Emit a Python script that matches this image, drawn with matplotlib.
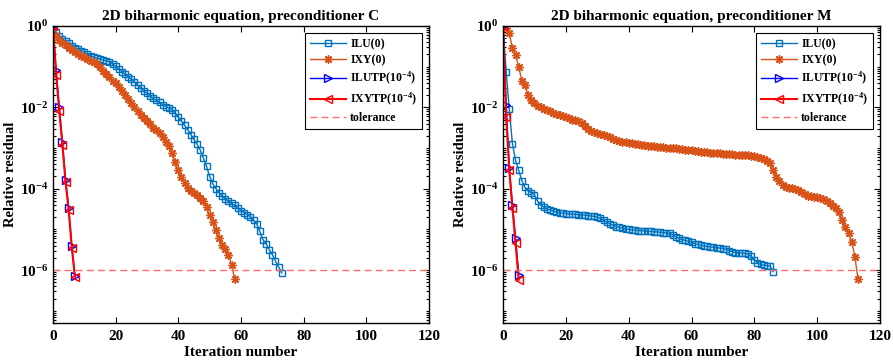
import numpy as np
import matplotlib
matplotlib.use("Agg")
import matplotlib.pyplot as plt
from matplotlib.ticker import FixedLocator, LogLocator, NullFormatter, FuncFormatter

plt.rcParams['font.family'] = ['Liberation Serif', 'DejaVu Serif']
plt.rcParams['font.weight'] = 'bold'
plt.rcParams['mathtext.fontset'] = 'custom'
plt.rcParams['mathtext.rm'] = 'Liberation Serif:bold'
plt.rcParams['mathtext.it'] = 'Liberation Serif:italic:bold'
plt.rcParams['mathtext.bf'] = 'Liberation Serif:bold'
plt.rcParams['mathtext.default'] = 'rm'

# ---------------- data (log10 of relative residual per iteration) ----------------
titles = ["2D biharmonic equation, preconditioner C",
          "2D biharmonic equation, preconditioner M"]
labels = ["ILU(0)", "IXY(0)", "ILUTP(10$^{-4}$)", "IXYTP(10$^{-4}$)", "tolerance"]
tolerance = 1e-6
x_ticks = [0, 20, 40, 60, 80, 100, 120]
y_ticks = [1e-6, 1e-4, 1e-2, 1e0]

C_ilu0 = [0, -0.15, -0.25, -0.32, -0.38, -0.43, -0.48, -0.53, -0.57, -0.61,
          -0.65, -0.69, -0.73, -0.77, -0.79, -0.81, -0.83, -0.86, -0.88, -0.93,
          -0.99, -1.06, -1.12, -1.18, -1.25, -1.31, -1.38, -1.45, -1.52, -1.59,
          -1.65, -1.72, -1.78, -1.83, -1.88, -1.93, -1.98, -2.02, -2.06, -2.14,
          -2.24, -2.34, -2.44, -2.55, -2.67, -2.79, -2.91, -3.05, -3.25, -3.45,
          -3.70, -3.88, -4.00, -4.10, -4.18, -4.25, -4.31, -4.36, -4.41, -4.48,
          -4.54, -4.59, -4.64, -4.69, -4.78, -4.86, -5.05, -5.25, -5.35, -5.50,
          -5.62, -5.78, -5.92, -6.07]
C_ixy0 = [0, -0.25, -0.35, -0.42, -0.47, -0.53, -0.58, -0.63, -0.68, -0.73,
          -0.77, -0.81, -0.85, -0.89, -0.93, -1.02, -1.10, -1.18, -1.26, -1.34,
          -1.41, -1.50, -1.60, -1.70, -1.80, -1.90, -2.00, -2.10, -2.19, -2.26,
          -2.33, -2.42, -2.50, -2.56, -2.64, -2.74, -2.85, -2.96, -3.12, -3.35,
          -3.55, -3.72, -3.87, -3.98, -4.06, -4.11, -4.16, -4.22, -4.30, -4.45,
          -4.65, -4.82, -5.02, -5.22, -5.38, -5.48, -5.62, -5.87, -6.23]
C_ilutp = [0, -1.08, -1.99, -2.85, -3.78, -4.47, -5.41, -6.14]
C_ixytp = [0, -1.20, -2.10, -2.92, -3.83, -4.52, -5.45, -6.16]

M_ilu0 = [0, -1.12, -2.05, -2.90, -3.30, -3.55, -3.80, -3.97, -4.05, -4.10,
          -4.15, -4.30, -4.40, -4.45, -4.50, -4.52, -4.55, -4.57, -4.59, -4.60,
          -4.61, -4.62, -4.63, -4.63, -4.64, -4.64, -4.65, -4.66, -4.67, -4.68,
          -4.70, -4.73, -4.77, -4.82, -4.86, -4.90, -4.93, -4.95, -4.97, -4.99,
          -5.00, -5.01, -5.02, -5.03, -5.03, -5.04, -5.05, -5.05, -5.06, -5.06,
          -5.07, -5.08, -5.09, -5.10, -5.13, -5.18, -5.22, -5.25, -5.27, -5.29,
          -5.32, -5.35, -5.37, -5.39, -5.41, -5.42, -5.43, -5.44, -5.45, -5.46,
          -5.47, -5.49, -5.52, -5.55, -5.57, -5.58, -5.58, -5.59, -5.61, -5.66,
          -5.75, -5.82, -5.86, -5.88, -5.89, -5.91, -6.04]
M_ixy0 = [0, -0.06, -0.18, -0.55, -0.72, -1.00, -1.35, -1.45, -1.70, -1.82,
          -1.90, -1.96, -2.00, -2.04, -2.07, -2.10, -2.13, -2.16, -2.19, -2.22,
          -2.24, -2.27, -2.30, -2.32, -2.34, -2.38, -2.45, -2.52, -2.57, -2.60,
          -2.63, -2.65, -2.68, -2.71, -2.74, -2.77, -2.80, -2.82, -2.84, -2.86,
          -2.87, -2.88, -2.89, -2.90, -2.92, -2.93, -2.94, -2.95, -2.96, -2.97,
          -2.98, -2.98, -2.99, -2.99, -3.00, -3.01, -3.02, -3.03, -3.04, -3.05,
          -3.06, -3.07, -3.08, -3.09, -3.10, -3.10, -3.11, -3.12, -3.13, -3.13,
          -3.14, -3.14, -3.15, -3.15, -3.16, -3.16, -3.17, -3.17, -3.18, -3.19,
          -3.20, -3.22, -3.25, -3.28, -3.32, -3.38, -3.55, -3.70, -3.82, -3.92,
          -3.96, -3.98, -3.99, -4.00, -4.03, -4.08, -4.13, -4.17, -4.19, -4.20,
          -4.21, -4.22, -4.25, -4.30, -4.36, -4.42, -4.48, -4.58, -4.78, -4.95,
          -5.10, -5.30, -5.67, -6.22]
M_ilutp = [0, -1.94, -3.50, -4.40, -5.22, -6.12]
M_ixytp = [0, -2.23, -3.54, -4.48, -5.34, -6.24]

panels = [(C_ilu0, C_ixy0, C_ilutp, C_ixytp),
          (M_ilu0, M_ixy0, M_ilutp, M_ixytp)]

# ---------------- styles ----------------
styles = [
    dict(color='#0072BD', marker='s', mfc='none', ms=5, lw=1.0, mew=1.0),
    dict(color='#D95319', marker=(8, 2, 0), ms=6, lw=1.0, mew=1.0),
    dict(color='#0000FF', marker='>', mfc='none', ms=6, lw=1.0, mew=1.0),
    dict(color='#FF0000', marker='<', mfc='none', ms=6, lw=1.5, mew=1.0),
]
tol_color = '#FF6B6B'

W, H = 893, 364
fig = plt.figure(figsize=(W / 100, H / 100), dpi=100)
axes_px = [(53, 26, 376, 297), (503, 26, 377, 297)]

def sci(v, pos):
    e = int(round(np.log10(v)))
    return r'10$^{%d}$' % e

for (x0, y0, w, h), title, data in zip(axes_px, titles, panels):
    ax = fig.add_axes([x0 / W, 1 - (y0 + h) / H, w / W, h / H])
    for vals, st, lab in zip(data, styles, labels):
        it = np.arange(len(vals))
        ax.semilogy(it, 10.0 ** np.array(vals), label=lab, **st)
    ax.axhline(tolerance, color=tol_color, ls=(0, (5, 3)), lw=1.0, label=labels[4])
    ax.set_xlim(0, 120)
    ax.set_ylim(5e-8, 1.0)
    ax.set_xticks(x_ticks)
    ax.yaxis.set_major_locator(FixedLocator(y_ticks))
    ax.yaxis.set_major_formatter(FuncFormatter(sci))
    ax.yaxis.set_minor_locator(LogLocator(base=10, subs=np.arange(1, 10), numticks=30))
    ax.yaxis.set_minor_formatter(NullFormatter())
    ax.tick_params(which='both', direction='in', top=True, right=True, labelsize=11, width=0.8)
    ax.tick_params(which='major', length=4.5)
    ax.tick_params(which='minor', length=2)
    ax.tick_params(axis='x', pad=5)
    for lab in ax.get_xticklabels() + ax.get_yticklabels():
        lab.set_fontweight('bold')
    for sp in ax.spines.values():
        sp.set_linewidth(1.0)
    ax.set_title(title, fontsize=11, fontweight='bold', pad=4)
    ax.set_xlabel('Iteration number', fontsize=11, fontweight='bold', labelpad=2)
    ax.set_ylabel('Relative residual', fontsize=10.5, fontweight='bold', labelpad=2)
    leg = ax.legend(loc='upper right', fontsize=8.5, frameon=True, fancybox=False,
                    edgecolor='black', framealpha=1, handlelength=3.0,
                    borderaxespad=0.6, labelspacing=0.35, borderpad=0.4, handletextpad=0.4)
    leg.get_frame().set_linewidth(0.8)
    for t in leg.get_texts():
        t.set_fontweight('bold')

fig.savefig('out.png', dpi=100)
